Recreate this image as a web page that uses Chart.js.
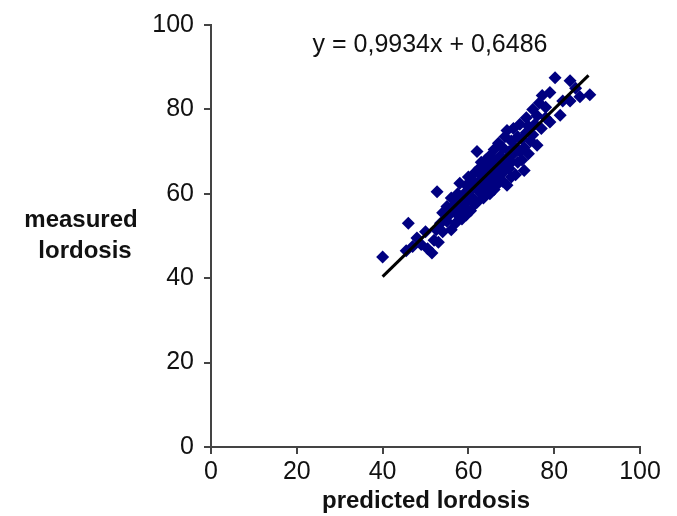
<!DOCTYPE html>
<html>
<head>
<meta charset="utf-8">
<script src="https://cdn.jsdelivr.net/npm/chart.js@4"></script>
<style>
html,body{margin:0;padding:0;background:#fff;}
#wrap{width:677px;height:516px;position:relative;}
</style>
</head>
<body>
<div id="wrap"><canvas id="c" width="677" height="516"></canvas></div>
<script>
// ---- data ----
const predicted = [40,46,45.5,47,48,49,50,50.5,51.5,52,52.5,53,52.7,53.5,54,54,55,55,55.5,56,56,56.5,57,57,57.5,57.5,58,58,58.5,58.5,59,59,59.5,59.5,60,60,60,60.5,60.5,61,61,61.5,61.5,62,62,62,62.5,62.5,63,63,63,63.5,63.5,64,64,64,64.5,64.5,65,65,65,65.5,65.5,66,66,66,66.5,66.5,67,67,67,67.5,67.5,68,68,68,68.5,68.5,69,69,69,69.5,69.5,70,70,70,70.5,70.5,71,71,71.5,71.5,72,72,72.5,72.5,73,73,73.5,73.5,74,74,74.5,75,75,75.5,76,76,76.5,77,77.2,78,78,79,79,80.2,81.4,82,83.7,83.7,85,86,88.3];
const measured  = [45,53,46.5,47.5,49.5,48,51,47,46,49,51.5,48.5,60.5,53,51,55.5,53.5,57,55,51.5,59,56,53,57.5,60,55,58.5,62.5,54,56.5,60,57,55,62,58.5,60.5,64,56,61.5,59,63,57.5,65,61,70,58,63,66,60,64.5,67.5,62,59,65.5,61,68,63,66.5,60,64,69,62,67,65,70.5,61,68,63.5,66,72,62.5,69,64.5,67,71,63,73.5,65.5,68.5,62,75,70,66,72.5,67.5,64,69.5,75.5,64.5,71,67.5,73.5,70,76.5,68,73,65.5,71,78,74.5,69.5,76,72.5,80,74,76.5,71.5,78.5,81.5,75.5,83.3,78,80.5,84,77,87.5,78.6,82,86.8,82,85,83,83.5];
const slope = 0.9934;
const intercept = 0.6486;
const fitRange = [40, 88];
const xTicks = [0, 20, 40, 60, 80, 100];
const yTicks = [0, 20, 40, 60, 80, 100];
const equationText = 'y = 0,9934x + 0,6486';
const xTitle = 'predicted lordosis';
const yTitle = ['measured', 'lordosis'];

const points = predicted.map((x, i) => ({x: x, y: measured[i]}));
const fitPoints = fitRange.map(x => ({x: x, y: slope * x + intercept}));

const FONT = '"Liberation Sans", Arial, sans-serif';

const textPlugin = {
  id: 'texts',
  afterDraw(chart) {
    const ctx = chart.ctx;
    ctx.save();
    ctx.fillStyle = '#111';
    ctx.textBaseline = 'alphabetic';
    ctx.textAlign = 'center';
    ctx.font = '25px ' + FONT;
    ctx.fillText(equationText, 430, 52);
    ctx.font = 'bold 24px ' + FONT;
    ctx.fillText(xTitle, 426, 508);
    ctx.fillText(yTitle[0], 81, 227);
    ctx.fillText(yTitle[1], 85, 258);
    ctx.restore();
  }
};

new Chart(document.getElementById('c'), {
  type: 'scatter',
  data: {
    datasets: [
      {
        label: 'fit',
        type: 'line',
        data: fitPoints,
        borderColor: '#000',
        borderWidth: 3,
        pointRadius: 0,
        fill: false,
        order: 0
      },
      {
        label: 'data',
        data: points,
        pointStyle: 'rectRot',
        pointRadius: 6.5,
        pointBackgroundColor: '#000080',
        pointBorderColor: '#000080',
        pointBorderWidth: 0,
        order: 1
      }
    ]
  },
  options: {
    responsive: false,
    animation: false,
    layout: {padding: {left: 151, right: 37, top: 22, bottom: 0}},
    plugins: {legend: {display: false}, tooltip: {enabled: false}},
    scales: {
      x: {
        type: 'linear', min: 0, max: 100,
        afterBuildTicks: s => { s.ticks = xTicks.map(v => ({value: v})); },
        afterFit: s => { s.height = 69; },
        ticks: {font: {size: 25, family: FONT}, color: '#111', padding: 3, maxRotation: 0},
        grid: {drawOnChartArea: false, drawTicks: true, tickLength: 7, color: '#444', lineWidth: 2},
        border: {display: true, color: '#444', width: 2}
      },
      y: {
        type: 'linear', min: 0, max: 100,
        afterBuildTicks: s => { s.ticks = yTicks.map(v => ({value: v})); },
        afterFit: s => { s.width = 60; },
        ticks: {font: {size: 25, family: FONT}, color: '#111', padding: 10},
        grid: {drawOnChartArea: false, drawTicks: true, tickLength: 7, color: '#444', lineWidth: 2},
        border: {display: true, color: '#444', width: 2}
      }
    }
  },
  plugins: [textPlugin]
});
</script>
</body>
</html>
